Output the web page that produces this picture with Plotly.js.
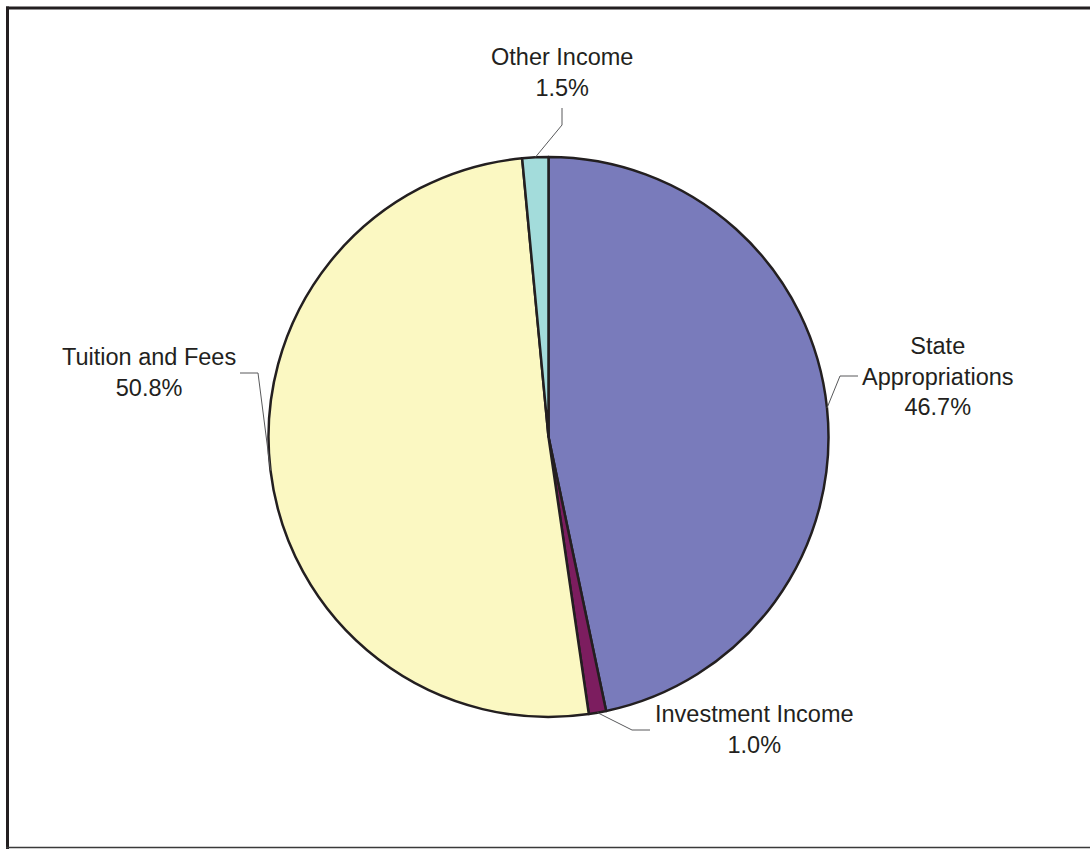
<!DOCTYPE html>
<html>
<head>
<meta charset="utf-8">
<script src="https://cdn.plot.ly/plotly-3.0.1.min.js"></script>
<style>
  html, body { margin: 0; padding: 0; background: #ffffff; }
  #chart { width: 1090px; height: 849px; }
</style>
</head>
<body>
<div id="chart"></div>
<script>
// ---- data ----
const categories = ['State Appropriations', 'Investment Income', 'Tuition and Fees', 'Other Income'];
const displayLabels = ['State<br>Appropriations', 'Investment Income', 'Tuition and Fees', 'Other Income'];
const shares = [46.7, 1.0, 50.8, 1.5];
const sliceColors = ['#797bbb', '#7c1d5f', '#fbf8c2', '#a3dcdb'];

// ---- layout constants (pixels) ----
const W = 1090, H = 849;
const CX = 548.5, CY = 437, R = 280;
const textColor = '#231f20';
const leaderColor = '#58595b';
// label centre, elbow and end of leader line for each slice
const labelLayout = [
  { x: 938, y: 376, elbow: [840, 376], end: [858, 376] },
  { x: 754, y: 729, elbow: [632, 730], end: [650, 730] },
  { x: 149, y: 372, elbow: [258, 373], end: [240, 373] },
  { x: 562, y: 73,  elbow: [562, 125], end: [562, 108] }
];

const px = v => v / W;
const py = v => 1 - v / H;

const total = shares.reduce((a, b) => a + b, 0);
const annotations = [];
const shapes = [];
let cum = 0;
shares.forEach((v, i) => {
  const mid = (cum + v / 2) / total;
  cum += v;
  const th = mid * 2 * Math.PI; // clockwise from 12 o'clock
  const ax = CX + R * Math.sin(th);
  const ay = CY - R * Math.cos(th);
  const L = labelLayout[i];
  shapes.push({
    type: 'path', xref: 'paper', yref: 'paper',
    path: `M ${px(ax)} ${py(ay)} L ${px(L.elbow[0])} ${py(L.elbow[1])} L ${px(L.end[0])} ${py(L.end[1])}`,
    line: { color: leaderColor, width: 1 }
  });
  annotations.push({
    xref: 'paper', yref: 'paper', x: px(L.x), y: py(L.y),
    xanchor: 'center', yanchor: 'middle', showarrow: false, align: 'center',
    text: displayLabels[i] + '<br>' + v.toFixed(1) + '%',
    font: { family: 'Liberation Sans, Arial, sans-serif', size: 23.5, color: textColor }
  });
});

// frame
shapes.push({ type: 'line', xref: 'paper', yref: 'paper', x0: px(7.5), x1: px(7.5), y0: py(6.5), y1: py(849), line: { color: textColor, width: 3 } });
shapes.push({ type: 'line', xref: 'paper', yref: 'paper', x0: px(6), x1: px(1090), y0: py(8), y1: py(8), line: { color: textColor, width: 3 } });
shapes.push({ type: 'line', xref: 'paper', yref: 'paper', x0: px(6), x1: px(1090), y0: py(847.5), y1: py(847.5), line: { color: '#3a3a3a', width: 1.5 } });

const trace = {
  type: 'pie',
  labels: categories,
  values: shares,
  sort: false,
  direction: 'clockwise',
  rotation: 0,
  textinfo: 'none',
  hoverinfo: 'label+percent',
  marker: { colors: sliceColors, line: { color: textColor, width: 2.5 } },
  domain: { x: [px(CX - R), px(CX + R)], y: [py(CY + R), py(CY - R)] },
  showlegend: false
};

const layout = {
  width: W, height: H,
  margin: { l: 0, r: 0, t: 0, b: 0 },
  paper_bgcolor: '#ffffff',
  showlegend: false,
  annotations: annotations,
  shapes: shapes
};

Plotly.newPlot('chart', [trace], layout, { staticPlot: true, displayModeBar: false });
</script>
</body>
</html>
